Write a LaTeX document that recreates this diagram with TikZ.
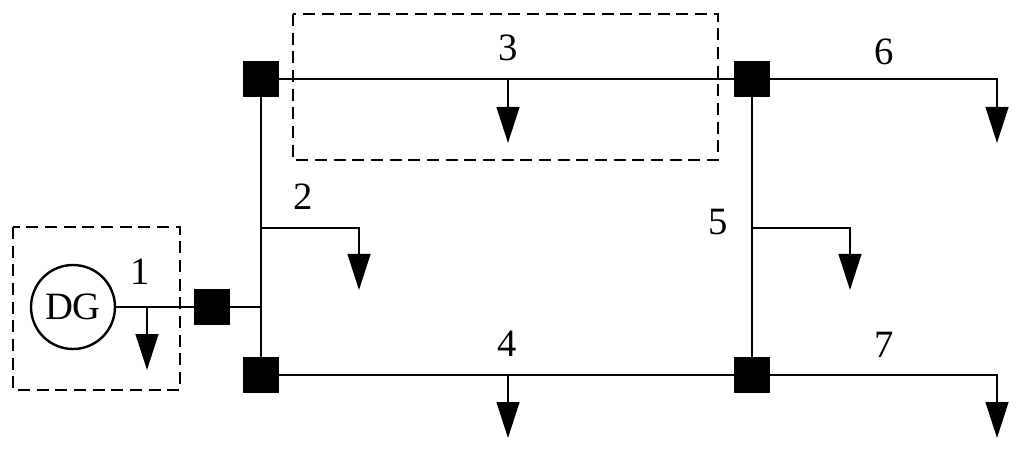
\documentclass[tikz,border=0pt]{standalone}
\usepackage{fontspec}
\setmainfont{Liberation Serif}
\usetikzlibrary{arrows.meta}
\begin{document}
\begin{tikzpicture}[x=0.75pt,y=-0.75pt,line width=1.8pt,
  bus/.style={fill=black,draw=black,minimum size=25pt,inner sep=0pt},
  ld/.style={-{Triangle[width=17pt,length=27pt]}},
  box/.style={line width=1.8pt,dash pattern=on 9pt off 5pt},
  lbl/.style={font=\fontsize{29}{31}\selectfont}]
\useasboundingbox (0,0) rectangle (1024,452);
\draw[box] (13,227) rectangle (180,390);
\draw[box] (293,14) rectangle (718,160);
\node[draw,circle,minimum size=63pt,inner sep=0pt,lbl] (dg) at (73,307) {DG};
\node[bus] (b1) at (212,307) {};
\node[bus] (ba) at (261,79) {};
\node[bus] (bb) at (261,375) {};
\node[bus] (bc) at (752,79) {};
\node[bus] (bd) at (752,375) {};
\coordinate (j1) at (261,307);
\coordinate (j2) at (261,228);
\coordinate (j5) at (752,228);
\coordinate (l1) at (147,307);
\coordinate (l3) at (508,79);
\coordinate (l4) at (508,375);
\coordinate (e6) at (997,79);
\coordinate (e7) at (997,375);
\draw (dg) -- (b1) -- (j1);
\draw (ba) -- (bb);
\draw (ba) -- (bc);
\draw (bb) -- (bd);
\draw (bc) -- (bd);
\draw[ld] (l1) -- (147,370);
\draw[ld] (l3) -- (508,143);
\draw[ld] (l4) -- (508,438);
\draw[ld] (bc) -- (e6) -- (997,143);
\draw[ld] (bd) -- (e7) -- (997,438);
\draw[ld] (j2) -- (359,228) -- (359,290);
\draw[ld] (j5) -- (850,228) -- (850,290);
\node[lbl] (t1) at (140,272) {1};
\node[lbl] (t2) at (303,197) {2};
\node[lbl] (t3) at (508,48) {3};
\node[lbl] (t4) at (507,344) {4};
\node[lbl] (t5) at (718,222) {5};
\node[lbl] (t6) at (884,52) {6};
\node[lbl] (t7) at (884,345) {7};
\end{tikzpicture}
\end{document}
